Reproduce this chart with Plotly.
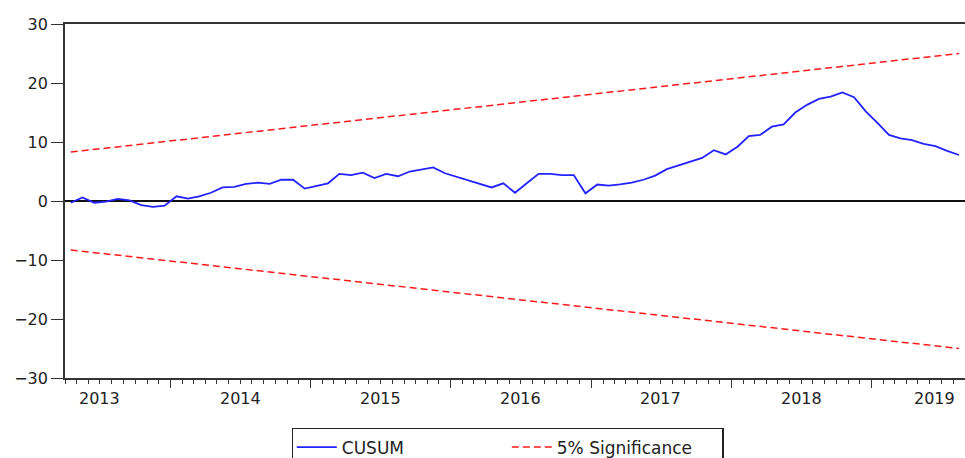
import pandas as pd
import plotly.graph_objects as go

# ---- data ----
start_month = "2013-04-01"
end_month = "2019-09-01"
n_obs = 77
months = pd.date_range(start_month, periods=n_obs, freq="MS")

cusum = [
    -0.3, 0.6, -0.3, -0.1, 0.35, 0.1, -0.7, -1.0, -0.8, 0.8,
    0.4, 0.8, 1.4, 2.3, 2.4, 2.9, 3.1, 2.9, 3.6, 3.6,
    2.1, 2.5, 3.0, 4.6, 4.4, 4.8, 3.9, 4.6, 4.2, 5.0,
    5.4, 5.7, 4.7, 4.1, 3.6, 2.9, 2.3, 3.0, 1.4, 3.0,
    4.6, 4.6, 4.4, 4.4, 1.3, 2.8, 2.6, 2.8, 3.1, 3.6,
    4.3, 5.4, 6.0, 6.7, 7.3, 8.6, 7.9, 9.2, 11.0, 11.2,
    12.6, 13.0, 15.0, 16.3, 17.3, 17.7, 18.4, 17.6, 15.2, 13.2,
    11.2, 10.6, 10.3, 9.7, 9.3, 8.5, 7.8,
]

# 5% significance bounds (straight lines) at first and last observation
bound_dates = [months[0], months[-1]]
upper_bound = [8.3, 25.0]
lower_bound = [-8.3, -25.0]

years = [2013, 2014, 2015, 2016, 2017, 2018, 2019]
year_labels = [str(y) for y in years]
y_ticks = [-30, -20, -10, 0, 10, 20, 30]

# year labels sit in the middle of each year, the last one pulled inside the frame
range_end = pd.Timestamp(end_month)
label_dates = [min(pd.Timestamp(f"{y}-07-01"), range_end - pd.Timedelta(days=80)) for y in years]

# ---- figure ----
fig = go.Figure()
fig.add_trace(go.Scatter(
    x=months, y=cusum, mode="lines", name="CUSUM",
    xperiod="M1", xperiodalignment="middle",
    line=dict(color="#2222ff", width=1.8),
))
fig.add_trace(go.Scatter(
    x=bound_dates, y=upper_bound, mode="lines", name="5% Significance",
    xperiod="M1", xperiodalignment="middle", legendgroup="sig",
    line=dict(color="#ff1a1a", width=1.5, dash="7px,4px"),
))
fig.add_trace(go.Scatter(
    x=bound_dates, y=lower_bound, mode="lines", name="5% Significance",
    xperiod="M1", xperiodalignment="middle", legendgroup="sig", showlegend=False,
    line=dict(color="#ff1a1a", width=1.5, dash="7px,4px"),
))

axis_font = dict(family="DejaVu Sans", size=16, color="#222")

for d, lab in zip(label_dates, year_labels):
    fig.add_annotation(
        x=d, y=0, xref="x", yref="paper", text=lab, showarrow=False,
        xanchor="center", yanchor="top", yshift=-9, font=axis_font,
    )

fig.update_layout(
    width=965, height=458,
    margin=dict(l=65, r=0, t=24, b=80, autoexpand=False),
    paper_bgcolor="white", plot_bgcolor="white",
    showlegend=True,
    legend=dict(
        orientation="h", x=0.252, xanchor="left", y=-0.1412, yanchor="top",
        bordercolor="#222", borderwidth=1.5, bgcolor="white",
        font=dict(family="DejaVu Sans", size=17, color="#222"),
        entrywidth=160, entrywidthmode="pixels",
        itemwidth=40,
    ),
    xaxis=dict(
        type="date",
        range=[start_month, end_month],
        tick0="2014-01-01", dtick="M12",
        showticklabels=False,
        ticks="outside", ticklen=8, tickwidth=1.3, tickcolor="#333",
        minor=dict(dtick="M1", tick0=start_month, ticks="outside", ticklen=4,
                   tickwidth=1, tickcolor="#333"),
        showline=True, linecolor="#333", linewidth=1.8, mirror=True,
        showgrid=False, zeroline=False, automargin=False,
    ),
    yaxis=dict(
        range=[-30, 30], tickvals=y_ticks,
        ticks="outside", ticklen=12, tickwidth=1.3, tickcolor="#333",
        showline=True, linecolor="#333", linewidth=1.8, mirror=False,
        showgrid=False,
        zeroline=True, zerolinecolor="#111", zerolinewidth=1.5,
        tickfont=axis_font, automargin=False,
    ),
)

fig.write_html(
    "out.html",
    config={"displayModeBar": False},
    post_script="document.body.style.margin='0';document.body.style.overflow='hidden';",
)
